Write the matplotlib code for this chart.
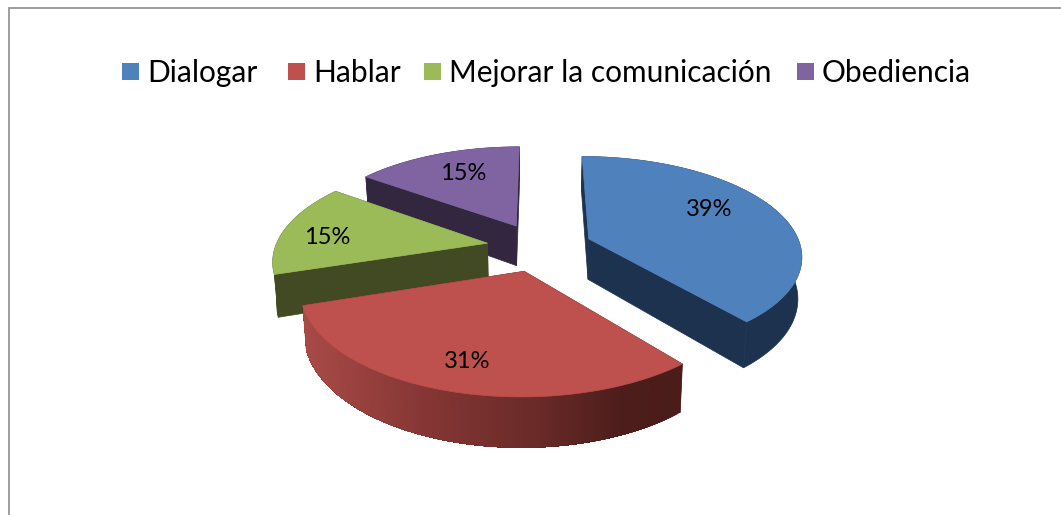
import numpy as np
import matplotlib
matplotlib.use('Agg')
import matplotlib.pyplot as plt
from matplotlib.patches import Polygon, Rectangle

categories = ['Dialogar', 'Hablar', 'Mejorar la comunicación', 'Obediencia']
values = [39, 31, 15, 15]
top_colors = ['#4f81bd', '#be504d', '#9bbb59', '#8064a2']
side_colors = ['#1d324e', '#7a3230', '#414a22', '#32273f']

legend_x = [122, 288, 424, 797]
label_pos = [(709, 209), (467, 361), (327, 237), (463, 174)]

# projection of the tilted pie
cx, cy = 539.5, 247
rx, ry = 212, 97.5
persp = 0.156
explode = 0.25
depth = 41
shrink = 0.985


def project(wx, wz, bottom=False):
    d = 1 + persp * wz
    x = rx * wx / d
    y = cy - ry * wz / d
    if bottom:
        x = x * shrink
        y = y + depth / d
    return cx + x, y


def red_shade(x):
    stops_x = [305, 430, 540, 625, 680]
    r = np.interp(x, stops_x, [168, 132, 105, 76, 74])
    g = np.interp(x, stops_x, [74, 54, 42, 29, 28])
    b = np.interp(x, stops_x, [71, 52, 40, 27, 26])
    return (r / 255, g / 255, b / 255)


fig = plt.figure(figsize=(10.61, 5.15), dpi=100)
ax = fig.add_axes([0, 0, 1, 1])
ax.set_xlim(0, 1061)
ax.set_ylim(515, 0)
ax.axis('off')

# chart frame, cut off by the screenshot at right and bottom
ax.plot([9, 9, 1061], [515, 7.5, 7.5], color='#969696', lw=1.3, solid_joinstyle='miter')

# slice angles run clockwise from the top
total = sum(values)
edges = np.cumsum([0] + values) / total * 2 * np.pi
slices = []
for i in range(len(values)):
    t0, t1 = edges[i], edges[i + 1]
    mid = (t0 + t1) / 2
    slices.append((i, t0, t1, explode * np.sin(mid), explode * np.cos(mid)))

# back slices first, red goes last because it covers green
for i, t0, t1, ox, oz in [slices[3], slices[2], slices[0], slices[1]]:
    t = np.linspace(t0, t1, 120)
    wx = ox + np.sin(t)
    wz = oz + np.cos(t)

    # the two cut faces
    for k in (0, -1):
        a = project(ox, oz)
        b = project(wx[k], wz[k])
        c = project(wx[k], wz[k], True)
        d = project(ox, oz, True)
        col = side_colors[i] if i != 1 else '#4a1c1a'
        ax.add_patch(Polygon([a, b, c, d], closed=True, fc=col, ec=col, lw=0.5))

    # outer wall, red one fades with x; each strip runs on to the left end so no seams show
    xt, yt = project(wx, wz)
    xb, yb = project(wx, wz, True)
    if i == 1:
        for j in range(len(t) - 1):
            q = list(zip(xt[j:], yt[j:])) + list(zip(xb[j:][::-1], yb[j:][::-1]))
            col = red_shade(xt[j])
            ax.add_patch(Polygon(q, closed=True, fc=col, ec='none'))
    else:
        pts = list(zip(xt, yt)) + list(zip(xb[::-1], yb[::-1]))
        ax.add_patch(Polygon(pts, closed=True, fc=side_colors[i], ec=side_colors[i], lw=0.5))

    # top face
    pts = [project(ox, oz)] + list(zip(xt, yt))
    ax.add_patch(Polygon(pts, closed=True, fc=top_colors[i], ec=top_colors[i], lw=0.5))

for v, (x, y) in zip(values, label_pos):
    ax.text(x, y, f'{v}%', ha='center', va='center', family='Lato', fontsize=17, color='black')

for name, x, col in zip(categories, legend_x, top_colors):
    ax.add_patch(Rectangle((x, 63), 17, 17, fc=col, ec='none'))
    ax.text(x + 25, 73, name, ha='left', va='center', family='Lato', fontsize=21.5, color='black')

fig.savefig('out.png', dpi=100)
